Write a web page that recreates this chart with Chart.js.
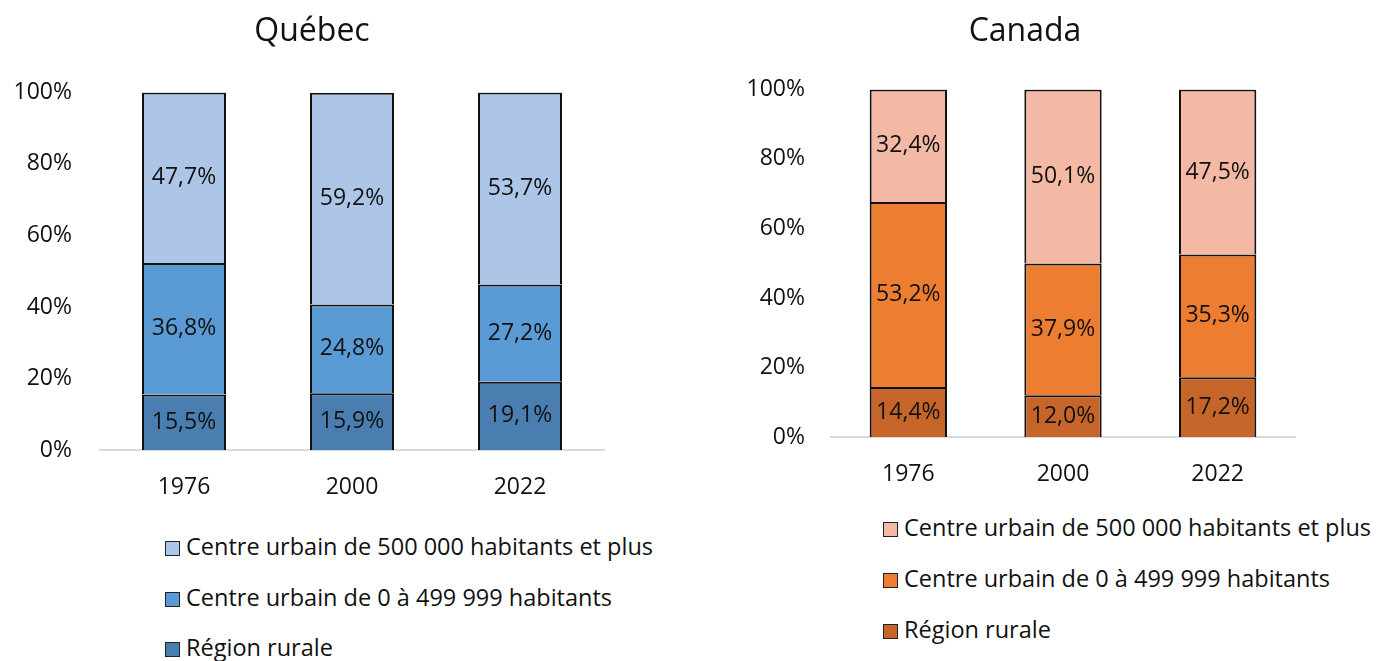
<!DOCTYPE html>
<html>
<head>
<meta charset="utf-8">
<script src="https://cdn.jsdelivr.net/npm/chart.js@4/dist/chart.umd.min.js"></script>
<style>
  body { margin: 0; background: #fff; font-family: "Open Sans", sans-serif; }
  #wrap { position: relative; width: 1377px; height: 661px; overflow: hidden; }
  .box { position: absolute; top: 0; }
  .legend { position: absolute; font-size: 23.5px; color: #111; }
  .legend div { position: absolute; white-space: nowrap; line-height: 28px; }
  .legend span { display: inline-block; width: 13px; height: 13px; border: 1.5px solid #222; margin-right: 6px; vertical-align: -1px; }
</style>
</head>
<body>
<div id="wrap">
  <div class="box" style="left:0;width:624px;height:520px"><canvas id="quebec"></canvas></div>
  <div class="box" style="left:700px;width:650px;height:510px"><canvas id="canada"></canvas></div>
  <div class="legend" id="legQc" style="left:165px;top:0"></div>
  <div class="legend" id="legCa" style="left:883px;top:0"></div>
</div>
<script>
var years = ['1976', '2000', '2022'];
var seriesNames = ['Région rurale', 'Centre urbain de 0 à 499 999 habitants', 'Centre urbain de 500 000 habitants et plus'];
var yTicks = [0, 20, 40, 60, 80, 100];

var qcRural = [15.5, 15.9, 19.1];
var qcSmall = [36.8, 24.8, 27.2];
var qcLarge = [47.7, 59.2, 53.7];

var caRural = [14.4, 12.0, 17.2];
var caSmall = [53.2, 37.9, 35.3];
var caLarge = [32.4, 50.1, 47.5];

var qcColors = ['#4a7eb0', '#5b9bd5', '#adc6e7'];
var caColors = ['#c5652a', '#ed7d31', '#f4b9a5'];

var FONT = '"Open Sans"';

var barLabels = {
  id: 'barLabels',
  afterDatasetsDraw: function(chart) {
    var ctx = chart.ctx;
    ctx.save();
    ctx.font = '23px ' + FONT;
    ctx.fillStyle = '#111';
    ctx.textAlign = 'center';
    ctx.textBaseline = 'middle';
    chart.data.datasets.forEach(function(ds, i) {
      chart.getDatasetMeta(i).data.forEach(function(el, j) {
        var txt = ds.data[j].toFixed(1).replace('.', ',') + '%';
        ctx.fillText(txt, el.x, (el.y + el.base) / 2);
      });
    });
    ctx.restore();
  }
};

function makeChart(id, title, vals, colors, opt) {
  return new Chart(document.getElementById(id), {
    type: 'bar',
    data: {
      labels: years,
      datasets: vals.map(function(v, i) {
        return {
          label: seriesNames[i],
          data: v,
          backgroundColor: colors[i],
          borderColor: '#111',
          borderWidth: 2,
          borderSkipped: 'start',
          barPercentage: 0.5,
          categoryPercentage: 1
        };
      })
    },
    options: {
      responsive: true,
      maintainAspectRatio: false,
      animation: false,
      layout: { padding: { left: 0, right: 0, top: 1, bottom: 0 } },
      plugins: {
        legend: { display: false },
        tooltip: { enabled: false },
        title: {
          display: true,
          text: title,
          color: '#111',
          font: { family: FONT, size: 32, weight: 'normal' },
          padding: { top: 12, bottom: opt.titleGap }
        }
      },
      scales: {
        x: {
          stacked: true,
          grid: { display: false, drawTicks: false },
          border: { display: true, color: '#d9d9d9', width: 2 },
          ticks: { color: '#111', font: { family: FONT, size: 23 }, padding: 24 },
          afterFit: function(s) { s.height = opt.xHeight; }
        },
        y: {
          stacked: true,
          min: 0,
          max: 100,
          grid: { display: false, drawTicks: false },
          border: { display: false },
          afterBuildTicks: function(s) { s.ticks = yTicks.map(function(v) { return { value: v }; }); },
          ticks: {
            color: '#111',
            font: { family: FONT, size: 23 },
            padding: opt.yPad,
            callback: function(v) { return v + '%'; }
          },
          afterFit: function(s) { s.width = opt.yWidth; }
        },
        // blank right axis, only used to keep the title centred where it is in the picture
        yRight: {
          position: 'right',
          display: true,
          grid: { display: false, drawTicks: false },
          border: { display: false },
          ticks: { display: false },
          afterFit: function(s) { s.width = opt.rightWidth; }
        }
      }
    },
    plugins: [barLabels]
  });
}

makeChart('quebec', 'Québec', [qcRural, qcSmall, qcLarge], qcColors,
  { yWidth: 100, yPad: 28, rightWidth: 20, titleGap: 41, xHeight: 70 });
makeChart('canada', 'Canada', [caRural, caSmall, caLarge], caColors,
  { yWidth: 131, yPad: 26, rightWidth: 55, titleGap: 38, xHeight: 73 });

function buildLegend(id, colors, rows) {
  var el = document.getElementById(id);
  for (var i = 2; i >= 0; i--) {
    var d = document.createElement('div');
    var sw = document.createElement('span');
    sw.style.background = colors[i];
    d.appendChild(sw);
    d.appendChild(document.createTextNode(seriesNames[i]));
    d.style.top = (rows[2 - i] - 14) + 'px';
    el.appendChild(d);
  }
}
buildLegend('legQc', qcColors, [546, 597, 647]);
buildLegend('legCa', caColors, [527, 578, 629]);
</script>
</body>
</html>
